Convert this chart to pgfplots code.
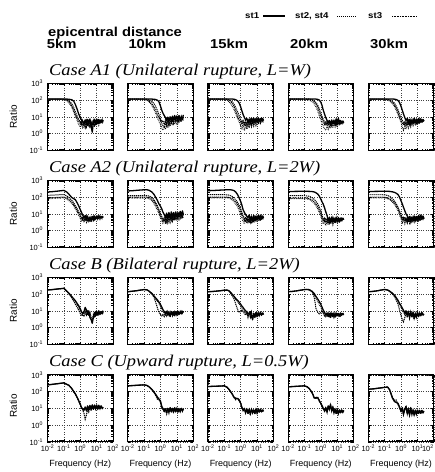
\documentclass[border=0pt]{standalone}
\usepackage{pgfplots}
\pgfplotsset{compat=1.18}
\usepackage{pgfplotstable}
\usepackage{fontspec}
\setmainfont{Liberation Serif}
\newfontfamily\hfont{Liberation Sans}[FakeStretch=1.14]
\newfontfamily\pfont{Liberation Sans}
\newfontfamily\tfont{Liberation Serif}[FakeStretch=1.12]

\tikzset{
 lineA/.style={black, line width=1.3pt, line join=round},
 lineB/.style={black, line width=1pt, dash pattern=on 1.2pt off 0.8pt},
 lineC/.style={black, line width=1pt, dash pattern=on 0.6pt off 1pt},
}

\newcommand{\panelfour}[5]{%
 \begin{axis}[xmode=log, ymode=log, scale only axis,
  width=65.5bp, height=67bp,
  xmin=0.01, xmax=100, ymin=0.1, ymax=1000,
  xtick={0.01,0.1,1,10,100}, ytick={0.1,1,10,100,1000},
  grid=major,
  major grid style={dotted, black!75, line width=0.5pt},
  tick align=inside,
  major tick length=2.5bp, minor tick length=1.6bp,
  every tick/.style={black, line width=0.55pt},
  axis line style={line width=0.9pt},
  tick label style={font=\pfont\fontsize{7.5}{7.5}\selectfont},
  yticklabel style={xshift=-1bp},
  anchor=north west, at={(#1bp,-#2bp)},
  xticklabels={#4}, yticklabels={#5}]
 \addplot[lineC] table[x=f,y=s3]{#3};
 \addplot[lineB] table[x=f,y=s4]{#3};
 \addplot[lineB] table[x=f,y=s2]{#3};
 \addplot[lineA] table[x=f,y=s1]{#3};
 \end{axis}}
\newcommand{\panelthree}[5]{%
 \begin{axis}[xmode=log, ymode=log, scale only axis,
  width=65.5bp, height=67bp,
  xmin=0.01, xmax=100, ymin=0.1, ymax=1000,
  xtick={0.01,0.1,1,10,100}, ytick={0.1,1,10,100,1000},
  grid=major,
  major grid style={dotted, black!75, line width=0.5pt},
  tick align=inside,
  major tick length=2.5bp, minor tick length=1.6bp,
  every tick/.style={black, line width=0.55pt},
  axis line style={line width=0.9pt},
  tick label style={font=\pfont\fontsize{7.5}{7.5}\selectfont},
  yticklabel style={xshift=-1bp},
  anchor=north west, at={(#1bp,-#2bp)},
  xticklabels={#4}, yticklabels={#5}]
 \addplot[lineC] table[x=f,y=s3]{#3};
 \addplot[lineB] table[x=f,y=s2]{#3};
 \addplot[lineA] table[x=f,y=s1]{#3};
 \end{axis}}

% ---------------- Case A1 ----------------
\pgfplotstableread{
f s1 s2 s4 s3
0.01 115 115 112 110
0.02 115 115 112 110
0.04 115 115 112 110
0.07 115 115 112 108
0.1 115 112 110 104
0.15 114 100 105 92
0.2 112 80 92 70
0.3 105 45 62 38
0.4 85 25 36 20
0.5 55 13 20 11
0.65 28 8 11 6
0.8 15 5.5 7 3.5
1.0 9 4 5 2.5
1.2 6.5 6 3.5 4
1.4 5.5 3 6 2
1.7 4 5 3 3.5
2.0 6.5 2.5 5.5 2.2
2.4 3.5 6 2.5 4.5
2.8 7 3.5 4.5 2.8
3.3 4.5 5.5 3 4
3.9 7.5 2.2 5.5 2.5
4.6 3 5 2.8 5
5.4 1.2 3 5 3
6.3 4.5 6 3.2 4.5
7.4 7 3.5 6 2.5
8.6 3.5 6.5 3 5
10 7.5 4 5.5 3.5
11.7 4 7 3.5 5.5
13.6 7 4 6 3.2
16 4.5 6 4.5 5
18.7 6.5 5 7 4
22 5 7 4 6
25 6.5 5 6 4.5
}\tAa
\pgfplotstableread{
f s1 s2 s4 s3
0.01 115 115 115 112
0.02 115 115 115 112
0.04 115 115 115 112
0.07 115 115 115 110
0.1 115 113 115 106
0.15 115 105 112 96
0.2 115 90 105 78
0.3 114 60 85 48
0.4 112 38 62 28
0.5 108 24 42 17
0.65 98 14 24 9
0.8 80 9 14 5.5
1.0 45 6 8 3.5
1.2 25 4 5 2.2
1.4 17 3 6 1.6
1.7 12 2.5 3.5 2.5
2.0 9 4.5 6.5 1.8
2.4 6 2.8 4 3.5
2.8 9.5 5.5 7 2.2
3.3 5.5 3 3.8 4.5
3.9 10 6 7.5 2.8
4.6 6 3.5 4.5 5
5.4 11 7 8 3
6.3 6.5 4 5 5.5
7.4 12 8 9 3.5
8.6 7 5 5.5 6
10 11 7.5 10 4
11.7 6.5 4.5 6 7
13.6 12 8.5 9.5 4.5
16 7 5 6 7.5
18.7 10 8 11 5
22 7.5 6 7 8
25 13 9 10 6
}\tAb
\pgfplotstableread{
f s1 s2 s4 s3
0.01 115 115 115 112
0.02 115 115 115 112
0.04 115 115 115 112
0.07 115 115 115 110
0.1 115 115 114 106
0.15 115 110 112 95
0.2 115 98 104 76
0.3 115 65 80 45
0.4 112 40 55 26
0.5 105 22 35 15
0.65 90 11 20 8
0.8 68 7 12 5
1.0 40 5 7 3
1.2 22 3.5 4.5 2
1.4 14 5.5 6 3.5
1.7 9 3 3.5 1.5
2.0 6.5 5 6.5 3
2.4 8 2.5 3.5 1.8
2.8 4.5 4.5 6 3.5
3.3 7.5 2.8 3.8 2.2
3.9 4 6 7 4
4.6 8 3.2 4 2.5
5.4 4.5 6.5 7.5 4.5
6.3 8.5 3.5 4.5 2.8
7.4 5 6 7 5
8.6 8 4 5 3
10 5 6.5 8 5
11.7 8.5 4 5 3.5
13.6 5.5 7 7.5 5.5
16 8 4.5 5 4
18.7 6 7 8 6
22 8 5 6 4.5
25 6 6.5 7 5.5
}\tAc
\pgfplotstableread{
f s1 s2 s4 s3
0.01 115 115 115 112
0.02 115 115 115 112
0.04 115 115 115 112
0.07 115 115 115 112
0.1 115 115 115 110
0.15 115 115 114 106
0.2 115 112 112 98
0.3 115 100 104 80
0.4 115 80 90 58
0.5 114 58 72 38
0.65 110 35 48 22
0.8 100 20 30 12
1.0 75 11 16 6.5
1.2 45 7 10 4
1.4 25 5 7 2.8
1.7 14 3.5 5 1.8
2.0 9 5.5 3.5 1.6
2.4 6 3 5.5 2.5
2.8 4.5 5 3 1.8
3.3 6 2.8 5 3
3.9 3.5 5.5 3.2 2
4.6 6.5 3 5.5 3.5
5.4 4 6 3.5 2.2
6.3 6 3.5 6 3.8
7.4 3.5 5.5 3.5 2.5
8.6 7.5 3.2 6.5 4
10 4 6 3.8 2.8
11.7 8.5 3.5 5.5 4.5
13.6 4.5 6 4 3
16 6 4 6 4.5
18.7 4.5 5.5 4.5 3.5
22 5.5 4 5.5 4.5
25 4.5 5 4.5 4
}\tAd
\pgfplotstableread{
f s1 s2 s4 s3
0.01 115 112 112 110
0.02 115 112 112 110
0.04 115 112 112 110
0.07 115 112 112 110
0.1 115 112 112 108
0.15 115 108 110 100
0.2 115 98 104 88
0.3 115 72 85 60
0.4 113 50 65 40
0.5 108 32 45 25
0.65 95 18 26 14
0.8 72 10 15 8
1.0 42 6 9 4.5
1.2 24 4 6 2.5
1.4 15 3.5 4.5 1.6
1.7 9 5 3 2.8
2.0 6 3 5 1.8
2.4 8 5.5 3.2 3.5
2.8 4 3.2 6 2.2
3.3 7 6 3.5 4
3.9 3.5 3.5 6.5 2.5
4.6 6.5 6.5 4 4.5
5.4 4 4 7 3
6.3 8 7 4.5 5
7.4 4.5 4 6.5 3.5
8.6 7.5 7 4 5.5
10 4.5 4.5 6 3.5
11.7 8 6.5 4.5 5.5
13.6 5 4.5 7 4
16 7.5 7 5 6
18.7 5 5 6.5 4.5
22 7 6.5 5 5.5
25 5.5 5.5 6 5
}\tAe

% ---------------- Case A2 ----------------
\pgfplotstableread{
f s1 s2 s4 s3
0.01 200 126 90 80
0.02 210 130 92 82
0.04 225 135 95 85
0.07 240 140 98 88
0.1 250 140 100 90
0.15 200 115 85 78
0.2 150 95 70 62
0.3 95 65 50 42
0.4 80 45 35 30
0.5 70 30 25 20
0.65 45 20 16 13
0.8 30 13 11 8
1.0 18 9 7.5 5.5
1.2 12 6 5 3.5
1.4 8.5 4.5 6 5
1.7 6 6.5 3.8 3
2.0 8 3.8 6 5.5
2.4 4.5 7 4 3.2
2.8 7.5 4 6.5 5.5
3.3 3.8 6 3.5 3
3.9 6.5 3.5 5.5 4.8
4.6 4 6.5 3.8 3.2
5.4 7 4.5 6 5.5
6.3 4.5 7 4 3.5
7.4 7.5 4.5 6.5 5.8
8.6 5 6.5 4.5 4
10 7 4.8 7 6
11.7 5.5 7 5 4.5
13.6 7.5 5 7.5 6
16 5.5 7.5 5.5 4.5
18.7 7 5.5 7 5.5
22 6 7 6 5
25 7 6 6.5 5.5
}\tBa
\pgfplotstableread{
f s1 s2 s4 s3
0.01 230 120 100 85
0.02 240 120 100 85
0.04 255 120 100 85
0.07 265 120 100 85
0.1 272 120 100 85
0.15 272 120 98 84
0.2 255 118 95 80
0.3 200 95 75 60
0.4 145 70 55 42
0.5 100 48 38 28
0.65 63 30 24 17
0.8 40 18 14 10
1.0 28 10 8 6
1.2 20 7 5.5 4
1.4 13 5 4 2.8
1.7 9 3.5 6 4.5
2.0 6.5 6 3.5 2.5
2.4 11 3.2 6.5 4.8
2.8 5 6.5 3.8 2.8
3.3 12 3.5 7 5
3.9 5.5 7 4.5 3
4.6 13 4 7.5 5.5
5.4 6 7.5 4.5 3.5
6.3 12 4 8 6
7.4 6.5 8 5 4
8.6 13 4.5 8.5 6.5
10 7 8.5 5.5 4
11.7 12 5 9 7
13.6 7.5 9 6 4.5
16 14 5.5 10 7.5
18.7 8 10 6.5 5
22 15 6.5 11 8
25 9 11 8 6
}\tBb
\pgfplotstableread{
f s1 s2 s4 s3
0.01 240 138 100 90
0.02 245 138 100 90
0.04 255 138 100 90
0.07 262 138 100 90
0.1 268 138 100 90
0.15 272 136 99 89
0.2 275 130 95 85
0.3 265 110 80 68
0.4 240 88 64 52
0.5 200 68 50 38
0.65 140 48 36 26
0.8 90 33 24 16
1.0 55 20 15 9
1.2 32 12 9 5.5
1.4 18 8 6 3.5
1.7 12 5.5 4 2.5
2.0 9 3.5 6.5 4
2.4 7 6 3.5 2.8
2.8 6 3.2 6 4.5
3.3 8.5 5.5 3 3
3.9 4 3 5.5 4.8
4.6 7.5 6 3.2 2.8
5.4 3.5 3.5 6 5
6.3 8 6.5 3.5 3
7.4 4 3.8 6.5 5.5
8.6 7.5 6.5 4 3.5
10 4.5 4 7 5.5
11.7 8 7 4.5 3.8
13.6 5 4.5 6.5 5.5
16 8.5 7 4.5 4
18.7 5 5 7 6
22 7.5 7.5 5 4.5
25 5.5 5.5 6.5 5.5
}\tBc
\pgfplotstableread{
f s1 s2 s4 s3
0.01 215 120 87 80
0.02 217 120 87 80
0.04 219 120 87 80
0.07 220 120 87 80
0.1 220 120 87 80
0.15 220 118 85 77
0.2 218 110 80 72
0.3 212 90 65 55
0.4 200 72 50 42
0.5 180 55 38 30
0.65 150 38 26 20
0.8 115 25 17 12
1.0 75 14 10 7
1.2 50 8 6 4
1.4 38 5 4 2.5
1.7 22 3.5 5.5 3.5
2.0 13 5.5 3 2
2.4 8 3 5 3.8
2.8 4 5 2.8 2.2
3.3 6 2.8 5.5 4
3.9 3 5.5 3.2 2.5
4.6 6.5 3 5 3.8
5.4 3.2 6 3 2.2
6.3 5.5 3.2 5.5 4
7.4 3 5.5 3.5 2.8
8.6 6 3.5 6 4.2
10 3.5 6 3.2 3
11.7 6 3.8 5.5 4.5
13.6 3.2 5.5 3.8 3
16 5.5 4 6 4.5
18.7 4 5.5 4 3.5
22 5.5 4.2 5.5 4.5
25 4.5 5 4.5 4
}\tBd
\pgfplotstableread{
f s1 s2 s4 s3
0.01 215 138 100 90
0.02 217 138 100 90
0.04 219 138 100 90
0.07 220 138 100 90
0.1 220 135 98 88
0.15 220 125 90 80
0.2 218 110 80 70
0.3 205 80 60 50
0.4 190 58 45 36
0.5 170 40 32 25
0.65 142 25 20 15
0.8 100 15 12 9
1.0 60 9 7 5
1.2 38 6 4.5 3
1.4 25 4 6 4.5
1.7 15 6.5 3.5 2.5
2.0 10 3.5 6 4.5
2.4 7.5 6 3 2.8
2.8 4 3.2 5.5 4.8
3.3 7 5.5 3.2 2.8
3.9 3.5 3 6 5
4.6 6.5 6 3.5 3
5.4 4 3.5 6.5 5
6.3 7.5 6.5 3.8 3.2
7.4 3.8 3.8 6 5.5
8.6 7 6 4 3.5
10 4 4 7 5
11.7 8 7 4.5 3.8
13.6 4.5 4.5 6.5 5.5
16 8.5 7 4.5 4
18.7 5 5 7 5.5
22 7.5 7.5 5 4.5
25 5 5.5 6 5
}\tBe

% ---------------- Case B ----------------
\pgfplotstableread{
f s1 s2 s3
0.01 175 175 172
0.02 185 185 182
0.04 200 200 197
0.07 212 212 210
0.1 220 220 218
0.15 150 145 148
0.2 115 105 110
0.3 72 60 68
0.4 52 38 48
0.5 40 25 35
0.65 27 16 23
0.8 20 11 16
1.0 13 7 10
1.2 9 5 7
1.4 6.6 6 5.5
1.7 9 4.5 7
2.0 16 8 12
2.4 11 5.5 6
2.8 6 9 9
3.3 10 5 5.5
3.9 4 8 7.5
4.6 3 4 3.5
5.4 1.8 2.5 2.2
6.3 4 6 5
7.4 8 4.5 7
8.6 5 8 5
10 9 5.5 8.5
11.7 5.5 9 6
13.6 10 6 9
16 6 8.5 6.5
18.7 9 6.5 9.5
22 6.5 9 7
25 10 7 9
}\tCa
\pgfplotstableread{
f s1 s2 s3
0.01 138 138 136
0.02 148 148 146
0.04 162 162 160
0.07 176 176 174
0.1 186 186 184
0.15 180 178 178
0.2 150 145 148
0.3 110 100 105
0.4 78 65 72
0.5 60 35 52
0.65 45 15 38
0.8 34 8 28
1.0 24 6 18
1.2 17 5 12
1.4 12 6 9
1.7 9 4.5 7
2.0 7 8 5
2.4 9.5 5 8
2.8 5.5 9 5.5
3.3 8 5.5 9
3.9 4.5 9 6
4.6 9 6 8.5
5.4 5.5 8 5
6.3 8.5 5 9
7.4 5 9 6
8.6 9 6.5 8
10 6 9 5.5
11.7 9.5 6 9
13.6 6 8.5 6.5
16 9 6.5 9.5
18.7 6.5 9.5 7
22 9.5 7 10
25 8 9 8
}\tCb
\pgfplotstableread{
f s1 s2 s3
0.01 138 138 136
0.02 143 143 141
0.04 152 152 150
0.07 162 162 160
0.1 170 170 168
0.15 172 172 170
0.2 155 150 150
0.3 100 80 95
0.4 72 50 66
0.5 55 25 48
0.65 42 12 35
0.8 33 8 26
1.0 25 9 19
1.2 19 11 14
1.4 16 9 11
1.7 12 7 9
2.0 10 5.5 7
2.4 8.5 7.5 9
2.8 7 4 5
3.3 6.3 8 7.5
3.9 9 4.5 4
4.6 4.5 8.5 8
5.4 3 3.5 3.5
6.3 7 7.5 6.5
7.4 4 4.5 4.5
8.6 8 8 8.5
10 4.5 5 5
11.7 7.5 8 7
13.6 5 5 5.5
16 8.5 7.5 8
18.7 5.5 5.5 6
22 7.5 7 7.5
25 6 6 6
}\tCc
\pgfplotstableread{
f s1 s2 s3
0.01 138 140 136
0.02 145 147 143
0.04 160 162 158
0.07 175 178 173
0.1 185 188 183
0.15 188 192 186
0.2 178 185 172
0.3 140 145 125
0.4 105 60 85
0.5 72 14 55
0.65 50 8 35
0.8 36 6.5 24
1.0 24 8 16
1.2 16 10 11
1.4 11 7 8
1.7 8 5 6
2.0 5.5 7 4.5
2.4 7.5 4.5 7
2.8 4.5 7.5 4.5
3.3 7 4 7.5
3.9 4 7 4
4.6 7.5 4.5 7
5.4 4.5 7.5 4.5
6.3 7 4 7.5
7.4 4.2 7 4.5
8.6 7.5 4.5 7
10 5 7.5 5
11.7 7 5 7.5
13.6 5 7 5
16 7.5 5 7
18.7 5.5 7.5 5.5
22 7 5.5 7.5
25 6 6.5 6
}\tCd
\pgfplotstableread{
f s1 s2 s3
0.01 138 138 136
0.02 145 145 143
0.04 160 160 158
0.07 178 178 176
0.1 188 188 186
0.15 175 175 172
0.2 150 148 145
0.3 112 100 105
0.4 85 70 78
0.5 62 45 55
0.65 42 25 36
0.8 28 12 24
1.0 20 5 16
1.2 14 3 11
1.4 11 2.2 8
1.7 7 4 6
2.0 10 7 9
2.4 5.5 4 5
2.8 8.5 8 8
3.3 4 4.5 3.5
3.9 9 7.5 8.5
4.6 4.5 4 4
5.4 8 8 7.5
6.3 3.5 3.5 3.2
7.4 7 7 7
8.6 4 4 4.5
10 8 7.5 8
11.7 4.5 5 4.5
13.6 7.5 7 8
16 5 5 5
18.7 8 7.5 7.5
22 5.5 6 5.5
25 6.5 6.5 7
}\tCe

% ---------------- Case C ----------------
\pgfplotstableread{
f s1 s2 s3
0.01 250 250 248
0.02 270 270 268
0.04 295 295 292
0.07 315 315 312
0.1 330 330 328
0.15 270 270 268
0.2 240 238 236
0.3 155 150 152
0.4 100 95 98
0.5 74 70 72
0.65 45 42 44
0.8 29 27 28
1.0 18 16 17
1.2 11 10 10.5
1.4 9.3 8 9
1.7 8 5 7
2.0 12 2.2 11
2.4 7 4 8
2.8 14 9 13
3.3 8 6 9
3.9 15 12 14
4.6 8.5 7 9
5.4 16 13 15
6.3 9 8 10
7.4 15 14 16
8.6 9.5 8.5 9
10 16 13 15
11.7 9 9 10
13.6 15 14 16
16 10 9 9.5
18.7 14 13 15
22 9.5 10 10
25 12 11 12
}\tDa
\pgfplotstableread{
f s1 s2 s3
0.01 220 220 218
0.02 228 228 226
0.04 238 238 236
0.07 246 246 244
0.1 250 250 248
0.15 232 230 230
0.2 195 190 192
0.3 135 128 132
0.4 95 88 92
0.5 70 60 66
0.65 48 35 45
0.8 35 40 33
1.0 28 22 25
1.2 13 12 12
1.4 10 9 9.5
1.7 7 6 6.5
2.0 9.5 8 9
2.4 5.5 4.5 5
2.8 10 9 9.5
3.3 6 5 6
3.9 11 10 10.5
4.6 6.5 5.5 6.5
5.4 10 9 10
6.3 6 5.5 6
7.4 11 10 10.5
8.6 6.5 6 6.5
10 10 9.5 10
11.7 6 5.5 6
13.6 9.5 9 9
16 6.5 6 6.5
18.7 10 9.5 10
22 7 6.5 7
25 9.5 9 9
}\tDb
\pgfplotstableread{
f s1 s2 s3
0.01 200 200 198
0.02 205 205 203
0.04 210 210 208
0.07 215 215 213
0.1 220 220 218
0.15 180 178 178
0.2 130 125 128
0.3 75 70 72
0.4 45 42 44
0.5 40 32 38
0.65 38 42 36
0.8 33 28 31
1.0 20 22 19
1.2 11 11 10.5
1.4 8 7 7.5
1.7 10 9 9.5
2.0 5.5 5 5.5
2.4 9 8.5 9
2.8 5 4.5 5
3.3 8.5 8 8.5
3.9 4.5 4 4.5
4.6 9 8.5 9
5.4 5.5 5 5.5
6.3 8 7.5 8
7.4 5 4.5 5
8.6 9 8.5 9
10 5.5 5 5.5
11.7 8.5 8 8.5
13.6 6 5.5 6
16 9 8.5 9
18.7 6 6 6.5
22 8 8 8.5
25 6.5 6.5 7
}\tDc
\pgfplotstableread{
f s1 s2 s3
0.01 190 190 188
0.02 200 200 198
0.04 208 208 206
0.07 215 215 213
0.1 220 220 218
0.15 190 188 188
0.2 148 145 146
0.3 83 78 80
0.4 42 38 40
0.5 40 48 42
0.65 45 38 43
0.8 28 32 27
1.0 20 18 19
1.2 14 12 13
1.4 10 9 9.5
1.7 7 6.5 7
2.0 11 10 10.5
2.4 6 5.5 6
2.8 14 13 13.5
3.3 9 8 8.5
3.9 17 16 16
4.6 7 6.5 7
5.4 12 11 11.5
6.3 5.5 5 5.5
7.4 9 8.5 9
8.6 5 4.5 5
10 8.5 8 8.5
11.7 5 4.5 5
13.6 8 7.5 8
16 5.5 5 5.5
18.7 8 7.5 8
22 6 5.5 6
25 7.5 7 7.5
}\tDd
\pgfplotstableread{
f s1 s2 s3
0.01 138 138 136
0.02 145 145 143
0.04 158 158 156
0.07 170 170 168
0.1 178 178 176
0.15 188 188 186
0.2 130 128 128
0.3 40 45 42
0.4 25 30 26
0.5 23 32 22
0.65 20 16 19
0.8 12 11 11.5
1.0 7 6 6.5
1.2 11 10 10.5
1.4 4.5 4 4.5
1.7 9 8.5 9
2.0 13 12 12.5
2.4 5 4.5 5
2.8 9 8.5 9
3.3 4 3.8 4
3.9 11 10 10.5
4.6 4.5 4 4.5
5.4 8 7.5 8
6.3 4 3.8 4
7.4 7.5 7 7.5
8.6 4.5 4.2 4.5
10 8 7.5 8
11.7 5 4.5 5
13.6 7.5 7 7.5
16 5 4.8 5
18.7 7.5 7 7.5
22 5.5 5 5.5
25 7 6.5 7
}\tDe

\begin{document}
\begin{tikzpicture}
\path[use as bounding box] (0,0) rectangle (435bp,-472bp);

% header
\node[anchor=base west, inner sep=0, font=\hfont\bfseries\fontsize{13}{13}\selectfont] at (48bp,-36bp) {epicentral distance};
\foreach \x/\t in {46.7/5km, 128.3/10km, 210/15km, 290/20km, 370/30km}
  \node[anchor=base west, inner sep=0, font=\hfont\bfseries\fontsize{13}{13}\selectfont] at (\x bp,-48.3bp) {\t};

% legend
\begin{scope}[every node/.style={anchor=base west, inner sep=0, font=\hfont\bfseries\fontsize{8.5}{8.5}\selectfont}]
\node at (245bp,-18.3bp) {st1};
\draw[lineA] (263bp,-16bp) -- (285bp,-16bp);
\node at (295bp,-18.3bp) {st2, st4};
\draw[lineB] (337bp,-16bp) -- (355bp,-16bp);
\node at (368bp,-18.3bp) {st3};
\draw[lineC] (392bp,-16bp) -- (417bp,-16bp);
\end{scope}

% case titles
\begin{scope}[every node/.style={anchor=base west, inner sep=0, font=\tfont\itshape\fontsize{16.5}{16.5}\selectfont}]
\node at (49bp,-75bp) {Case A1 (Unilateral rupture, L=W)};
\node at (49bp,-172bp) {Case A2 (Unilateral rupture, L=2W)};
\node at (49bp,-269bp) {Case B (Bilateral rupture, L=2W)};
\node at (49bp,-366bp) {Case C (Upward rupture, L=0.5W)};
\end{scope}

% Ratio labels
\foreach \y in {116.8, 213.8, 310.8, 406}
  \node[rotate=90, inner sep=0, font=\pfont\fontsize{10}{10}\selectfont] at (13.3bp,-\y bp) {Ratio};

% Frequency labels
\foreach \x in {80.25, 160.45, 240.65, 320.85, 401.05}
  \node[anchor=base, inner sep=0, font=\pfont\fontsize{9}{9}\selectfont] at (\x bp,-466.5bp) {Frequency (Hz)};

% Row 1: Case A1
\panelfour{47.5}{83.3}{\tAa}{}{10\textsuperscript{-1},10\textsuperscript{0},10\textsuperscript{1},10\textsuperscript{2},10\textsuperscript{3}}
\panelfour{127.7}{83.3}{\tAb}{}{}
\panelfour{207.9}{83.3}{\tAc}{}{}
\panelfour{288.1}{83.3}{\tAd}{}{}
\panelfour{368.3}{83.3}{\tAe}{}{}
% Row 2: Case A2
\panelfour{47.5}{180.3}{\tBa}{}{10\textsuperscript{-1},10\textsuperscript{0},10\textsuperscript{1},10\textsuperscript{2},10\textsuperscript{3}}
\panelfour{127.7}{180.3}{\tBb}{}{}
\panelfour{207.9}{180.3}{\tBc}{}{}
\panelfour{288.1}{180.3}{\tBd}{}{}
\panelfour{368.3}{180.3}{\tBe}{}{}
% Row 3: Case B
\panelthree{47.5}{277.3}{\tCa}{}{10\textsuperscript{-1},10\textsuperscript{0},10\textsuperscript{1},10\textsuperscript{2},10\textsuperscript{3}}
\panelthree{127.7}{277.3}{\tCb}{}{}
\panelthree{207.9}{277.3}{\tCc}{}{}
\panelthree{288.1}{277.3}{\tCd}{}{}
\panelthree{368.3}{277.3}{\tCe}{}{}
% Row 4: Case C
\panelthree{47.5}{374.8}{\tDa}{10\textsuperscript{-2},10\textsuperscript{-1},10\textsuperscript{0},10\textsuperscript{1},10\textsuperscript{2}}{10\textsuperscript{-1},10\textsuperscript{0},10\textsuperscript{1},10\textsuperscript{2},10\textsuperscript{3}}
\panelthree{127.7}{374.8}{\tDb}{10\textsuperscript{-2},10\textsuperscript{-1},10\textsuperscript{0},10\textsuperscript{1},10\textsuperscript{2}}{}
\panelthree{207.9}{374.8}{\tDc}{10\textsuperscript{-2},10\textsuperscript{-1},10\textsuperscript{0},10\textsuperscript{1},10\textsuperscript{2}}{}
\panelthree{288.1}{374.8}{\tDd}{10\textsuperscript{-2},10\textsuperscript{-1},10\textsuperscript{0},10\textsuperscript{1},10\textsuperscript{2}}{}
\panelthree{368.3}{374.8}{\tDe}{10\textsuperscript{-2},10\textsuperscript{-1},10\textsuperscript{0},10\textsuperscript{1},\llap{10\textsuperscript{2}}}{}
\end{tikzpicture}
\end{document}
